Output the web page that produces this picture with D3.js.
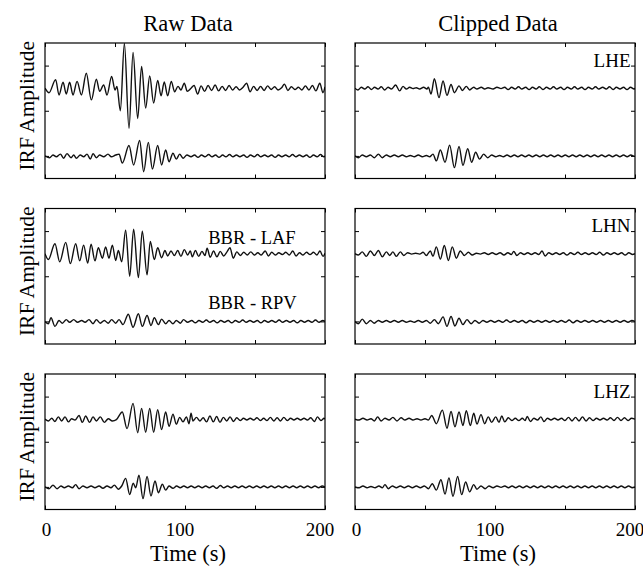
<!DOCTYPE html>
<html>
<head>
<meta charset="utf-8">
<script src="https://cdn.jsdelivr.net/npm/d3@7"></script>
<style>
  body { margin: 0; background: #fff; }
  svg { display: block; }
  text { font-family: "Liberation Serif", "Times New Roman", Times, serif; fill: #000; }
</style>
</head>
<body>
<svg id="chart" width="643" height="566"></svg>
<script>
// Column and row labels
const columnTitles = ["Raw Data", "Clipped Data"];
const componentLabels = ["LHE", "LHN", "LHZ"];
const stationLabels = ["BBR - LAF", "BBR - RPV"];
const timeTicks = [0, 50, 100, 150, 200];
const timeTickLabels = [0, 100, 200];
const amplitudeTicks = [0, 1, 2];

// Receiver functions as [time (s), amplitude] extrema.
// Upper trace of each panel = BBR-LAF, lower trace = BBR-RPV.
const rawLHE_LAF = [[0,0],[2.9,-0.1],[7.6,0.19],[10,-0.15],[12.9,0.13],[15.2,-0.13],[17.6,0.13],[20,-0.15],[22.9,0.15],[26,-0.15],[29.5,0.33],[33.1,-0.26],[36.7,0.2],[39,-0.07],[41.9,0.07],[44.3,-0.15],[47.6,0.26],[50,-0.04],[51.4,0.04],[53.8,-0.5],[56.7,0.99],[60,-0.89],[62.9,0.79],[66.2,-0.67],[69,0.48],[71.9,-0.44],[74.8,0.27],[77.6,-0.33],[80.5,0.17],[82.9,-0.17],[85.2,0.14],[87.6,-0.17],[90.2,0.15],[92.6,-0.08],[95,0.04],[97.1,-0.04],[99.5,0.11],[101.6,-0.07],[104.3,0.0],
  [106.5,0.06],[109,-0.13],[111.5,0.05],[114,-0.07],[116.5,0.06],[119,-0.05],[121.5,0.07],[124,-0.06],[126.5,0.04],[129,-0.05],[131.5,0.06],[134,-0.04],[136.5,0.03],[139,-0.04],[141.5,0.02],[144,0.11],[146.5,-0.08],[149,0.04],[151.5,-0.05],[154,0.04],[156.5,-0.05],[159,0.05],[161.5,-0.03],[164,0.03],[166.5,-0.04],[169,0.01],[171,0.09],[173.5,-0.05],[176,0.03],[178.5,-0.03],[181,0.02],[183.5,-0.04],[186,0.05],[188.5,-0.04],[191,0.06],[193.5,-0.06],[196.3,0.11],[198.5,-0.1],[200,0.03]];

const rawLHE_RPV = [[0,0],[3.3,-0.04],[5.7,0.02],[8.1,-0.02],[11,0.04],[13.3,-0.05],[15.7,0.05],[18.6,-0.04],[20.5,0.02],[22.4,-0.05],[25.2,0.02],[27.6,-0.02],[30,0.04],[32.4,-0.07],[34.3,0.05],[36.7,-0.04],[39,0.02],[41.9,-0.02],[45,0.04],[47.4,-0.02],[50.5,0.02],[52.9,0.04],[55.2,-0.16],[60,0.23],[63.3,-0.2],[67.6,0.34],[70.5,-0.35],[73.8,0.3],[76.7,-0.29],[80.5,0.23],[83.3,-0.2],[86.2,0.13],[88.6,-0.13],[91.4,0.06],[93.8,-0.07],[96.2,0.04],[98.6,-0.05],[101.4,0.02],[104.3,-0.02],
  [106.8,0.02],[109.3,-0.03],[111.8,0.02],[114.2,-0.02],[116.9,0.03],[119.4,-0.02],[121.8,0.02],[124.3,-0.03],[126.9,0.02],[129.2,-0.02],[131.8,0.03],[134.3,-0.02],[136.7,0.02],[139.2,-0.02],[141.9,0.02],[144.3,-0.03],[146.8,0.02],[149.4,-0.02],[151.8,0.03],[154.2,-0.02],[156.9,0.02],[159.3,-0.02],[161.8,0.02],[164.4,-0.03],[166.8,0.02],[169.2,-0.02],[171.9,0.02],[174.3,-0.02],[176.8,0.03],[179.3,-0.02],[181.7,0.02],[184.3,-0.02],[186.8,0.02],[189.2,-0.03],[191.8,0.02],[194.3,-0.02],[196.8,0.03],[199.2,-0.02],[200,0]];

const clipLHE_LAF = [[0,0],[2.1,-0.04],[4.5,0.02],[6.9,-0.02],[9.3,0.03],[11.7,-0.03],[14,0.02],[16.4,-0.02],[18.8,0.03],[21.2,-0.04],[23.6,0.02],[26,-0.02],[29,0.07],[31.9,-0.06],[34.3,0.04],[36.7,-0.02],[39,0.02],[41.4,-0.01],[43.8,0.01],[46.2,-0.02],[49,0.02],[51.4,-0.02],[52.4,0.02],[54.3,-0.13],[56.7,0.21],[60,-0.21],[62.9,0.16],[65.7,-0.16],[68.6,0.08],[71,-0.1],[74.3,0.05],[76.7,-0.05],[79.5,0.04],[81.9,-0.04],[84.8,0.02],[87.1,-0.02],[90.2,0.02],[92.6,-0.02],[95,0.01],[98.6,-0.02],[101.4,0.02],[104.3,-0.01],
  [106.9,0.02],[109.4,-0.03],[111.9,0.02],[114.3,-0.02],[116.8,0.03],[119.2,-0.02],[121.9,0.02],[124.4,-0.03],[126.8,0.02],[129.3,-0.02],[131.7,0.03],[134.2,-0.03],[136.8,0.02],[139.3,-0.02],[141.8,0.03],[144.2,-0.02],[146.9,0.02],[149.3,-0.03],[151.8,0.02],[154.4,-0.02],[156.8,0.03],[159.2,-0.02],[161.9,0.02],[164.3,-0.03],[166.8,0.02],[169.3,-0.02],[171.8,0.03],[174.2,-0.02],[176.9,0.02],[179.4,-0.02],[181.8,0.03],[184.3,-0.03],[186.7,0.02],[189.3,-0.02],[191.8,0.02],[194.3,-0.03],[196.8,0.02],[199.3,-0.02],[200,0]];

const clipLHE_RPV = [[0,0],[2.4,-0.04],[5.2,0.02],[8.1,-0.02],[11,0.02],[13.8,-0.04],[16.7,0.04],[19.5,-0.04],[22.4,0.02],[25.2,-0.02],[28.1,0.02],[31,-0.02],[33.8,0.02],[36.7,-0.02],[39.5,0.01],[42.4,-0.02],[45.2,0.02],[48.1,-0.02],[51,0.01],[53.3,-0.02],[55.7,0.04],[58.1,-0.11],[61,0.13],[64.3,-0.14],[67.6,0.24],[71,-0.26],[74.3,0.21],[77.1,-0.21],[80.5,0.16],[83.3,-0.14],[86.2,0.08],[89,-0.07],[91.9,0.04],[94.8,-0.04],[97.6,0.02],[100.5,-0.02],[103.3,0.01],
  [106,-0.02],[108.6,0.02],[111.2,-0.02],[113.8,0.02],[116.4,-0.02],[119,0.02],[121.6,-0.02],[124.2,0.02],[126.8,-0.02],[129.4,0.02],[132,-0.02],[134.6,0.02],[137.2,-0.02],[139.8,0.02],[142.4,-0.02],[145,0.02],[147.6,-0.02],[150.2,0.02],[152.8,-0.02],[155.4,0.02],[158,-0.02],[160.6,0.02],[163.2,-0.02],[165.8,0.02],[168.4,-0.02],[171,0.02],[173.6,-0.02],[176.2,0.02],[178.8,-0.02],[181.4,0.02],[184,-0.02],[186.6,0.02],[189.2,-0.02],[191.8,0.02],[194.4,-0.02],[197,0.02],[199.6,-0.01],[200,0]];

const rawLHN_LAF = [[0,0],[2.4,-0.13],[7.1,0.22],[10.5,-0.18],[14.8,0.25],[18.1,-0.22],[21.9,0.22],[24.8,-0.16],[27.6,0.19],[30.5,-0.21],[32.9,0.21],[35.7,-0.16],[38.1,0.13],[41,-0.1],[43.3,0.15],[45.7,-0.1],[48.1,0.19],[50.5,-0.15],[52.4,0.07],[54.8,-0.18],[57.6,0.52],[60.5,-0.5],[63.3,0.54],[66.7,-0.53],[69.5,0.5],[72.9,-0.47],[75.2,0.27],[78.1,-0.13],[80.5,0.13],[83.3,-0.09],[85.7,0.07],[87.6,-0.05],[90,0.06],[92.4,-0.04],[94.8,0.07],[97.1,-0.06],[99.5,0.09],[101.9,-0.03],[103.8,0.06],[105.2,-0.07],
  [107.4,0.07],[109.8,-0.06],[112.1,0.05],[114.3,-0.04],[115.8,0.12],[118,-0.08],[120.4,0.06],[122.8,-0.07],[125.2,0.05],[127.6,-0.05],[130,0.04],[132.1,0.13],[134.5,-0.1],[137,0.04],[139.5,-0.04],[142,0.03],[144.5,-0.03],[147,0.04],[149.5,-0.03],[152,0.02],[154.5,-0.03],[157.3,0.06],[159.6,-0.05],[162,0.03],[164.5,-0.03],[167,0.02],[169.5,-0.02],[172,0.03],[174.5,-0.03],[177,0.06],[179.3,-0.05],[181.8,0.02],[184.3,-0.03],[186.8,0.03],[189.3,-0.02],[191.8,0.03],[194.2,-0.03],[196.4,0.06],[198.6,-0.06],[200,0.01]];

const rawLHN_RPV = [[0,0],[2.4,-0.05],[4.3,0.08],[7.1,-0.11],[10,0.02],[12.4,-0.04],[15.2,0.04],[17.6,-0.02],[20.5,0.04],[23.3,-0.02],[26.2,0.02],[28.6,-0.02],[31.4,0.04],[34.3,-0.05],[36.7,0.04],[39.5,-0.04],[42.4,0.02],[45.2,-0.04],[47.6,0.04],[50.5,-0.04],[52.9,0.04],[55.7,-0.07],[59.5,0.16],[62.9,-0.13],[66.7,0.17],[69.5,-0.11],[72.9,0.13],[75.7,-0.09],[78.1,0.08],[81,-0.07],[83.3,0.05],[86.2,-0.05],[88.6,0.02],[91.4,-0.05],[93.8,0.02],[96.7,-0.04],[99,0.04],[101.9,-0.02],[104.8,0.02],
  [107.4,-0.03],[110,0.02],[112.6,-0.02],[115.2,0.03],[117.8,-0.02],[120.4,0.02],[123,-0.03],[125.6,0.02],[128.2,-0.02],[130.8,0.02],[133.4,-0.03],[136,0.02],[138.6,-0.02],[141.2,0.03],[143.8,-0.02],[146.4,0.02],[149,-0.02],[151.6,0.02],[154.2,-0.03],[156.8,0.02],[159.4,-0.02],[162,0.02],[164.6,-0.02],[167.2,0.03],[169.8,-0.02],[172.4,0.02],[175,-0.02],[177.6,0.02],[180.2,-0.03],[182.8,0.02],[185.4,-0.02],[188,0.02],[190.6,-0.02],[193.2,0.03],[195.8,-0.02],[198.4,0.02],[200,0]];

const clipLHN_LAF = [[0,0],[2.4,-0.03],[5.2,0.04],[8.1,-0.06],[11,0.06],[13.8,-0.04],[16.7,0.07],[19.5,-0.07],[22.4,0.04],[24.8,-0.04],[27.1,0.04],[29.5,-0.06],[32.4,0.04],[34.8,-0.04],[37.6,0.02],[40.5,-0.01],[43.3,0.01],[46.2,-0.01],[48.6,0.03],[51,-0.04],[53.8,0.06],[55.7,-0.06],[58.1,0.15],[61,-0.12],[63.8,0.18],[66.7,-0.15],[69.5,0.15],[72.4,-0.1],[75.2,0.06],[78.1,-0.04],[81,0.03],[83.8,-0.03],[86.7,0.01],[89.5,-0.01],
  [92.4,0.02],[95.2,-0.02],[98,0.02],[100.8,-0.02],[103.6,0.02],[106.4,-0.03],[109.2,0.02],[111.6,-0.02],[113.4,0.05],[115.6,-0.04],[118.2,0.02],[120.8,-0.02],[123.4,0.02],[126,-0.02],[128.6,0.02],[131.2,-0.02],[133.6,0.06],[135.8,-0.05],[138.4,0.02],[141,-0.02],[143.6,0.02],[146.2,-0.02],[148.8,0.02],[151.4,-0.03],[154,0.02],[156.6,-0.02],[159.2,0.03],[161.8,-0.02],[164.4,0.02],[167,-0.02],[169.6,0.02],[172.2,-0.02],[174.8,0.03],[177.4,-0.03],[180,0.02],[182.6,-0.02],[185.2,0.02],[187.8,-0.02],[190.4,0.02],[193,-0.03],[195.6,0.02],[198.2,-0.02],[200,0]];

const clipLHN_RPV = [[0,0],[2.4,-0.05],[5.2,0.05],[8.1,-0.05],[11,0.02],[13.8,-0.04],[16.7,0.02],[19.5,-0.02],[22.4,0.02],[25.2,-0.02],[28.1,0.02],[31,-0.02],[33.8,0.02],[36.7,-0.02],[39.5,0.01],[42.4,-0.02],[45.2,0.02],[48.1,-0.02],[51,0.02],[53.8,-0.04],[56.7,0.04],[59.5,-0.05],[62.9,0.1],[65.7,-0.11],[68.6,0.11],[71.4,-0.1],[74.3,0.07],[77.1,-0.07],[80,0.04],[82.9,-0.05],[85.7,0.02],[88.6,-0.04],[91.4,0.02],
  [94.2,-0.02],[97,0.02],[99.8,-0.02],[102.6,0.02],[105.4,-0.02],[108.2,0.03],[111,-0.02],[113.8,0.02],[116.6,-0.02],[119.4,0.02],[122.2,-0.03],[125,0.02],[127.8,-0.02],[130.6,0.02],[133.4,-0.02],[136.2,0.02],[139,-0.02],[141.8,0.02],[144.6,-0.02],[147.4,0.02],[150.2,-0.02],[153,0.03],[155.8,-0.03],[158.6,0.02],[161.4,-0.02],[164.2,0.02],[167,-0.02],[169.8,0.02],[172.6,-0.02],[175.4,0.02],[178.2,-0.02],[181,0.02],[183.8,-0.02],[186.6,0.02],[189.4,-0.02],[192.2,0.02],[195,-0.02],[197.8,0.02],[200,0]];

const rawLHZ_LAF = [[0,0],[2.4,-0.04],[4.8,0.02],[7.1,-0.05],[9.5,0.05],[11.9,-0.04],[14.3,0.05],[16.7,-0.06],[19,0.01],[21.4,-0.02],[24.3,0.08],[26.7,-0.07],[29,0.07],[31.9,-0.07],[34.3,0.05],[36.7,-0.04],[39.5,0.05],[42.4,-0.07],[45.2,0.01],[48.1,-0.04],[51,-0.01],[55.2,0.16],[58.6,-0.21],[62.9,0.35],[66.2,-0.3],[69,0.24],[71.9,-0.29],[74.8,0.24],[77.6,-0.29],[80.5,0.21],[83.3,-0.23],[86.2,0.16],[88.6,-0.16],[91.4,0.11],[93.8,-0.11],[96.2,0.04],[98.6,-0.06],[101,0.05],[102.9,-0.1],[104.3,0.13],
  [105.7,-0.04],[108.2,0.04],[110.6,-0.04],[113,0.03],[115.4,-0.06],[117.8,0.07],[120.2,-0.06],[122.6,0.06],[125,-0.07],[127.4,0.04],[129.8,-0.04],[132.2,0.05],[134.6,-0.05],[137,0.03],[139.4,-0.03],[141.8,0.02],[144.2,-0.02],[146.6,0.02],[149,-0.02],[151.4,0.03],[153.8,-0.03],[156.2,0.02],[158.6,-0.03],[161,0.04],[163.4,-0.04],[165.8,0.03],[168.2,-0.04],[170.6,0.04],[173,-0.03],[175.4,0.02],[177.8,-0.02],[180.2,0.02],[182.6,-0.02],[185,0.02],[187.4,-0.02],[189.8,0.03],[192.4,-0.05],[194.6,0.05],[197,-0.03],[199.4,0.02],[200,0]];

const rawLHZ_RPV = [[0,0],[2.9,-0.04],[5.7,0.04],[8.6,-0.04],[11.4,0.02],[13.8,-0.02],[16.7,0.02],[19.5,-0.02],[21.9,0.05],[24.3,-0.04],[27.1,0.02],[30,-0.02],[32.9,0.02],[35.7,-0.02],[38.6,0.02],[41.4,-0.03],[44.3,0.02],[47.1,-0.02],[49.5,0.04],[52.4,-0.05],[54.8,0.02],[57.6,0.19],[60.5,-0.17],[63,0.08],[64.8,-0.02],[67.1,0.26],[70,-0.26],[72.9,0.23],[75.7,-0.2],[78.6,0.13],[81,-0.13],[83.8,0.06],[86.2,-0.07],[88.6,0.02],[91.4,-0.03],[94,0.02],[96.6,-0.02],[99.2,0.02],[101.8,-0.02],[104.4,0.02],
  [107,-0.02],[109.6,0.02],[112.2,-0.02],[114.8,0.02],[117.4,-0.02],[120,0.02],[122.6,-0.03],[125.2,0.03],[127.8,-0.02],[130.4,0.02],[133,-0.02],[135.6,0.02],[138.2,-0.02],[140.8,0.02],[143.4,-0.02],[146,0.02],[148.6,-0.02],[151.2,0.02],[153.8,-0.02],[156.4,0.02],[159,-0.02],[161.6,0.02],[164.2,-0.02],[166.8,0.02],[169.4,-0.02],[172,0.02],[174.6,-0.02],[177.2,0.02],[179.8,-0.02],[182.4,0.02],[185,-0.02],[187.6,0.02],[190.2,-0.02],[192.8,0.02],[195.4,-0.02],[198,0.02],[200,0]];

const clipLHZ_LAF = [[0,0],[2.9,-0.02],[5.7,0.02],[8.6,-0.02],[11.4,0.01],[13.8,-0.04],[16.2,0.05],[18.6,-0.04],[21.4,0.02],[24.3,-0.02],[27.1,0.04],[30,-0.04],[32.9,0.03],[35.7,-0.02],[38.6,0.02],[41.4,-0.02],[44.3,0.01],[47.1,-0.02],[50,0.01],[52.4,-0.02],[54.8,0.08],[58.1,-0.1],[62.4,0.2],[65.7,-0.2],[68.6,0.17],[71.4,-0.17],[74.3,0.16],[77.1,-0.14],[79.5,0.19],[82.4,-0.14],[84.8,0.13],[87.1,-0.11],[90,0.1],[92.6,-0.1],[95.2,0.05],[97.6,-0.07],[100.5,0.05],[102.9,-0.07],[104.8,0.07],
  [107,-0.06],[109.5,0.03],[112,-0.03],[114.5,0.02],[117,-0.03],[119.5,0.02],[121.5,-0.03],[123,0.06],[125.3,-0.05],[127.8,0.02],[130.3,-0.02],[132.8,0.05],[135,-0.05],[137.5,0.02],[140,-0.02],[142.5,0.02],[145,-0.02],[147.5,0.02],[150,-0.03],[152.5,0.04],[155,-0.04],[157.5,0.04],[160,-0.04],[162.5,0.05],[165,-0.04],[167.5,0.03],[170,-0.03],[172.5,0.02],[175,-0.02],[177.5,0.02],[180,-0.02],[182.5,0.03],[185,-0.03],[187.5,0.04],[190,-0.03],[192.5,0.03],[195,-0.03],[197.5,0.02],[200,0]];

const clipLHZ_RPV = [[0,0],[2.9,-0.02],[5.7,0.02],[8.6,-0.02],[11.4,0.01],[14.3,-0.02],[17.1,0.02],[19.5,-0.02],[21.4,0.05],[23.8,-0.04],[26.7,0.02],[29.5,-0.02],[32.4,0.02],[35.2,-0.02],[38.1,0.02],[41,-0.02],[43.8,0.02],[46.7,-0.02],[49.5,0.02],[52.4,-0.04],[55.2,0.07],[58.1,-0.07],[61.4,0.16],[64.3,-0.16],[67.1,0.2],[70,-0.21],[73.3,0.23],[76.2,-0.17],[79,0.11],[81.9,-0.11],[84.8,0.05],[87.1,-0.05],[90,0.02],[92.9,-0.04],[95.7,0.02],[98.6,-0.02],[101.4,0.02],[104.3,-0.01],
  [107,0.02],[109.6,-0.02],[112.2,0.02],[114.8,-0.02],[117.4,0.02],[120,-0.02],[122.6,0.02],[125.2,-0.02],[127.8,0.02],[130.4,-0.02],[133,0.02],[135.6,-0.02],[138.2,0.02],[140.8,-0.02],[143.4,0.02],[146,-0.02],[148.6,0.02],[151.2,-0.02],[153.8,0.02],[156.4,-0.02],[159,0.02],[161.6,-0.02],[164.2,0.02],[166.8,-0.02],[169.4,0.02],[172,-0.02],[174.6,0.02],[177.2,-0.02],[179.8,0.02],[182.4,-0.02],[185,0.02],[187.6,-0.02],[190.2,0.02],[192.8,-0.02],[195.4,0.02],[198,-0.02],[200,0]];

// panels[row][col] = [upper trace, lower trace]
const panels = [
  [[rawLHE_LAF, rawLHE_RPV], [clipLHE_LAF, clipLHE_RPV]],
  [[rawLHN_LAF, rawLHN_RPV], [clipLHN_LAF, clipLHN_RPV]],
  [[rawLHZ_LAF, rawLHZ_RPV], [clipLHZ_LAF, clipLHZ_RPV]]
];

// ---- layout ----
const svg = d3.select("#chart");
const colX = [45, 355];
const rowY = [43, 208.5, 374];
const W = 280, H = 135.5;
const traceOffset = [1.5, 0];

const x = d3.scaleLinear().domain([0, 200]).range([0, W]);
const y = d3.scaleLinear().domain([-0.5, 2.5]).range([H, 0]);

const line = d3.line().x(d => x(d[0])).curve(d3.curveMonotoneX);

svg.append("defs").append("clipPath").attr("id", "panelClip")
  .append("rect").attr("width", W).attr("height", H);

panels.forEach((row, r) => {
  row.forEach((traces, c) => {
    const g = svg.append("g").attr("transform", `translate(${colX[c]},${rowY[r]})`);
    const isBottom = r === panels.length - 1;

    const styleAxis = sel => {
      sel.select(".domain").remove();
      sel.selectAll(".tick line").attr("stroke", "#000").attr("stroke-width", 1);
      sel.selectAll(".tick text")
        .style("font-family", '"Liberation Serif", "Times New Roman", serif')
        .style("font-size", "19px").attr("fill", "#000");
    };

    const bottomAxis = g.append("g").attr("transform", `translate(0,${H})`)
      .call(d3.axisBottom(x).tickValues(timeTicks).tickSize(-4).tickPadding(13)
        .tickFormat(d => (isBottom && timeTickLabels.includes(d)) ? d : ""))
      .call(styleAxis);
    // multi-digit labels sit slightly left of their ticks
    bottomAxis.selectAll(".tick text").attr("dx", d => d === 0 ? 1 : -5.5);

    g.append("g")
      .call(d3.axisTop(x).tickValues(timeTicks).tickSize(-4).tickFormat(""))
      .call(styleAxis);
    g.append("g")
      .call(d3.axisLeft(y).tickValues(amplitudeTicks).tickSize(-4).tickFormat(""))
      .call(styleAxis);
    g.append("g").attr("transform", `translate(${W},0)`)
      .call(d3.axisRight(y).tickValues(amplitudeTicks).tickSize(-4).tickFormat(""))
      .call(styleAxis);

    const plot = g.append("g").attr("clip-path", "url(#panelClip)");
    traces.forEach((tr, k) => {
      plot.append("path")
        .datum(tr)
        .attr("fill", "none")
        .attr("stroke", "#111")
        .attr("stroke-width", 1.4)
        .attr("stroke-linejoin", "round")
        .attr("d", line.y(d => y(d[1] + traceOffset[k])));
    });

    g.append("rect").attr("width", W).attr("height", H)
      .attr("fill", "none").attr("stroke", "#000").attr("stroke-width", 1.2);

    if (c === 1) {
      g.append("text").attr("x", W - 4.5).attr("y", 23.5)
        .attr("text-anchor", "end").style("font-size", "19px")
        .text(componentLabels[r]);
    }
    if (r === 1 && c === 0) {
      g.append("text").attr("x", x(116.6)).attr("y", y(traceOffset[0]) - 10)
        .style("font-size", "18.5px").text(stationLabels[0]);
      g.append("text").attr("x", x(116.6)).attr("y", y(traceOffset[1]) - 12)
        .style("font-size", "18.5px").text(stationLabels[1]);
    }
    if (c === 0) {
      g.append("text")
        .attr("transform", `translate(${33.5 - colX[0]},${H / 2 - 5}) rotate(-90)`)
        .attr("text-anchor", "middle").style("font-size", "21.5px")
        .text("IRF Amplitude");
    }
    if (r === 0) {
      g.append("text").attr("x", W / 2 + 3).attr("y", 30.5 - rowY[0])
        .attr("text-anchor", "middle").style("font-size", "22.5px")
        .text(columnTitles[c]);
    }
    if (isBottom) {
      g.append("text").attr("x", W / 2 + 3).attr("y", 561 - rowY[r])
        .attr("text-anchor", "middle").style("font-size", "22.5px")
        .text("Time (s)");
    }
  });
});
</script>
</body>
</html>
